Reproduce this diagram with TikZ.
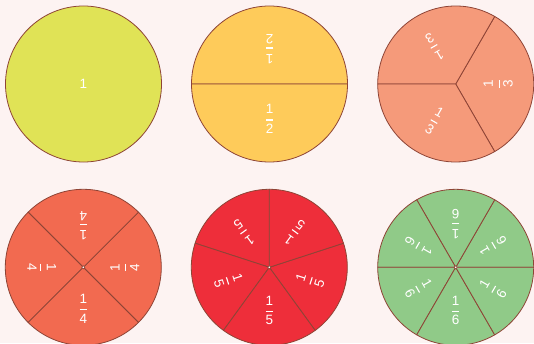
\documentclass[tikz,border=0pt]{standalone}
\usepackage{amsmath}
\usepackage{fontspec}
\setmainfont{Liberation Sans}
\usetikzlibrary{calc}
\definecolor{bg}{HTML}{FDF3F2}
\definecolor{edge}{HTML}{8E4436}
\definecolor{cA}{HTML}{E0E356}
\definecolor{cB}{HTML}{FECB5A}
\definecolor{cC}{HTML}{F59A7A}
\definecolor{cD}{HTML}{F26A50}
\definecolor{cE}{HTML}{EE2E3A}
\definecolor{cF}{HTML}{90CA88}
\newcommand{\myfr}[1]{$\genfrac{}{}{1.1pt}{0}{\mbox{1}}{\mbox{#1}}$}
\tikzset{
  sect/.style={draw=edge, line width=0.8pt, line join=round},
  lbl/.style={text=white, font=\fontsize{13.5}{14}\selectfont, inner sep=0pt},
  dot/.style={circle, draw=edge, fill=white, line width=0.6pt, inner sep=0pt, minimum size=3.2pt}
}
% #1 center, #2 n, #3 color, #4 start angle, #5 label radius
\newcommand{\pie}[5]{%
  \pgfmathsetmacro{\stp}{360/#2}%
  \foreach \k in {1,...,#2}{%
    \pgfmathsetmacro{\aa}{#4+(\k-1)*\stp}%
    \pgfmathsetmacro{\bb}{#4+\k*\stp}%
    \pgfmathsetmacro{\mm}{#4+(\k-0.5)*\stp}%
    \pgfmathsetmacro{\rr}{\mm+90}%
    \fill[#3, sect] (#1) -- ++(\aa:78) arc[start angle=\aa, end angle=\bb, radius=78] -- cycle;
    \node[lbl, rotate=\rr] (l\k) at ($(#1)+(\mm:#5)$) {\myfr{#2}};
  }%
}
\begin{document}
\begin{tikzpicture}[x=1pt,y=1pt]
\useasboundingbox (0,0) rectangle (534,343);
\fill[bg] (0,0) rectangle (534,343);
\coordinate (c1) at (83.5,259);
\coordinate (c2) at (269.5,259);
\coordinate (c3) at (455.7,259);
\coordinate (c4) at (83.3,75.7);
\coordinate (c5) at (269.3,75.7);
\coordinate (c6) at (455.7,75.7);
\fill[cA, sect] (c1) circle[radius=78];
\node[lbl] (one) at (c1) {1};
\pie{c2}{2}{cB}{0}{35}
\pie{c3}{3}{cC}{-60}{42.5}
\pie{c4}{4}{cD}{-45}{41.5}
\node[dot] (d4) at (c4) {};
\pie{c5}{5}{cE}{-54}{43}
\node[dot] (d5) at (c5) {};
\pie{c6}{6}{cF}{0}{43}
\node[dot] (d6) at (c6) {};
\end{tikzpicture}
\end{document}
